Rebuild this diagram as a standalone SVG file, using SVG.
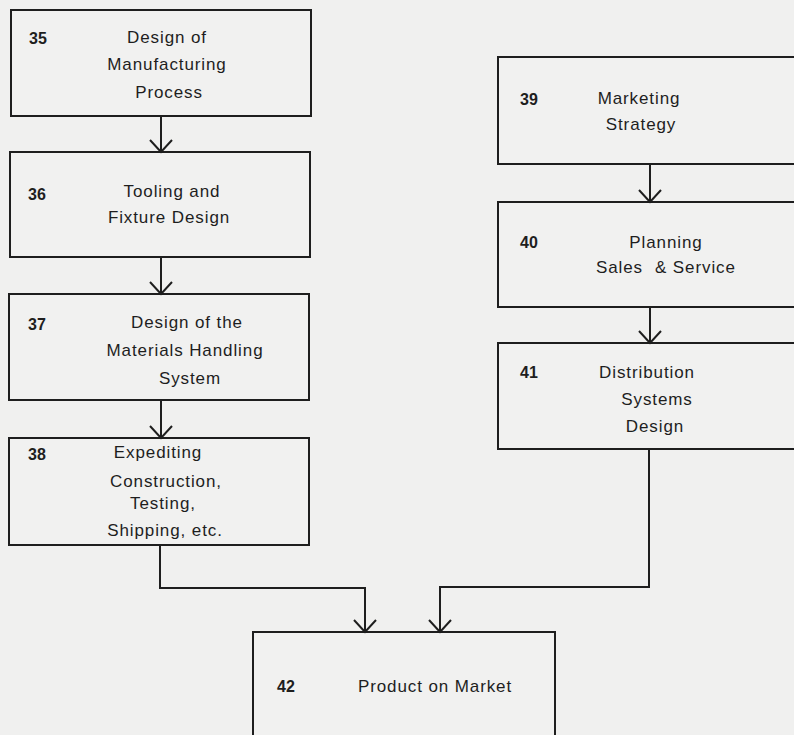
<svg xmlns="http://www.w3.org/2000/svg" width="794" height="735" viewBox="0 0 794 735">
<style>
.box{fill:#f1f1f0;stroke:#1e1e1e;stroke-width:2}
.t{font-family:"Liberation Sans",Arial,sans-serif;font-size:17px;letter-spacing:0.9px;fill:#1e1e1e;text-anchor:middle}
.n{font-family:"Liberation Sans",Arial,sans-serif;font-size:16px;font-weight:bold;fill:#1e1e1e}
.c{fill:none;stroke:#1e1e1e;stroke-width:2}
</style>
<defs>
<marker id="ah" markerUnits="userSpaceOnUse" viewBox="-15 -15 30 30" markerWidth="30" markerHeight="30" refX="0" refY="0" orient="auto">
<path d="M-12,-11 L0,0 L-12,11" fill="none" stroke="#1e1e1e" stroke-width="2"/>
</marker>
</defs>
<rect width="794" height="735" fill="#f0f0ef"/>
<g id="n35">
<rect class="box" x="11" y="10" width="300" height="106"/>
<text class="n" x="29" y="44">35</text>
<text class="t" x="167" y="43">Design of</text>
<text class="t" x="167" y="70">Manufacturing</text>
<text class="t" x="169" y="98">Process</text>
</g>
<g id="n36">
<rect class="box" x="10" y="152" width="300" height="105"/>
<text class="n" x="28" y="200">36</text>
<text class="t" x="172" y="197">Tooling and</text>
<text class="t" x="169" y="223">Fixture Design</text>
</g>
<g id="n37">
<rect class="box" x="9" y="294" width="300" height="106"/>
<text class="n" x="28" y="330">37</text>
<text class="t" x="187" y="328">Design of the</text>
<text class="t" x="185" y="356">Materials Handling</text>
<text class="t" x="190" y="384">System</text>
</g>
<g id="n38">
<rect class="box" x="9" y="438" width="300" height="107"/>
<text class="n" x="28" y="460">38</text>
<text class="t" x="158" y="458">Expediting</text>
<text class="t" x="166" y="487">Construction,</text>
<text class="t" x="163" y="509">Testing,</text>
<text class="t" x="165" y="536">Shipping, etc.</text>
</g>
<g id="n39">
<rect class="box" x="498" y="57" width="310" height="107"/>
<text class="n" x="520" y="105">39</text>
<text class="t" x="639" y="104">Marketing</text>
<text class="t" x="641" y="130">Strategy</text>
</g>
<g id="n40">
<rect class="box" x="498" y="202" width="310" height="105"/>
<text class="n" x="520" y="248">40</text>
<text class="t" x="666" y="248">Planning</text>
<text class="t" style="text-anchor:start" x="596" y="273">Sales<tspan x="655">&amp; Service</tspan></text>
</g>
<g id="n41">
<rect class="box" x="498" y="343" width="310" height="106"/>
<text class="n" x="520" y="378">41</text>
<text class="t" x="647" y="378">Distribution</text>
<text class="t" x="657" y="405">Systems</text>
<text class="t" x="655" y="432">Design</text>
</g>
<g id="n42">
<rect class="box" x="253" y="632" width="302" height="110"/>
<text class="n" x="277" y="692">42</text>
<text class="t" x="435" y="692">Product on Market</text>
</g>
<g id="connectors">
<path class="c" d="M161,116 V152" marker-end="url(#ah)"/>
<path class="c" d="M161,257 V294" marker-end="url(#ah)"/>
<path class="c" d="M161,400 V438" marker-end="url(#ah)"/>
<path class="c" d="M160,545 V588 H365 V632" marker-end="url(#ah)"/>
<path class="c" d="M650,164 V202" marker-end="url(#ah)"/>
<path class="c" d="M650,307 V343" marker-end="url(#ah)"/>
<path class="c" d="M649,449 V587 H440 V632" marker-end="url(#ah)"/>
</g>
</svg>
